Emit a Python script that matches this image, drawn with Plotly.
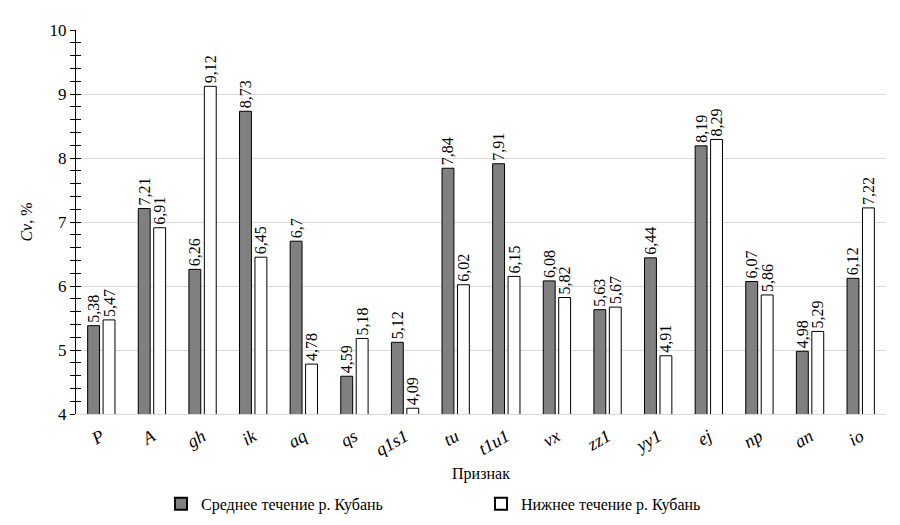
import plotly.graph_objects as go

# признаки (categories) and Cv, % for the two stretches of the river
signs = ['P', 'A', 'gh', 'ik', 'aq', 'qs', 'q1s1', 'tu', 't1u1', 'vx',
         'zz1', 'yy1', 'ej', 'np', 'an', 'io']
middle_cv = [5.38, 7.21, 6.26, 8.73, 6.7, 4.59, 5.12, 7.84, 7.91, 6.08,
             5.63, 6.44, 8.19, 6.07, 4.98, 6.12]
lower_cv = [5.47, 6.91, 9.12, 6.45, 4.78, 5.18, 4.09, 6.02, 6.15, 5.82,
            5.67, 4.91, 8.29, 5.86, 5.29, 7.22]

FONT = '"Liberation Serif", "Times New Roman", serif'


def comma(vals):
    return [str(v).replace('.', ',') for v in vals]


fig = go.Figure()
fig.add_trace(go.Bar(x=signs, y=middle_cv, name='Среднее течение р. Кубань',
                     marker=dict(color='#808080',
                                 line=dict(color='black', width=1)),
                     text=comma(middle_cv), textposition='outside',
                     textangle=-90, cliponaxis=False, constraintext='none',
                     textfont=dict(family=FONT, size=16, color='black')))
fig.add_trace(go.Bar(x=signs, y=lower_cv, name='Нижнее течение р. Кубань',
                     marker=dict(color='white',
                                 line=dict(color='black', width=1)),
                     text=comma(lower_cv), textposition='outside',
                     textangle=-90, cliponaxis=False, constraintext='none',
                     textfont=dict(family=FONT, size=16, color='black')))

# invisible trace to carry the inner half of the crossing ticks
fig.add_trace(go.Scatter(x=signs, y=middle_cv, yaxis='y2', mode='none',
                         showlegend=False, hoverinfo='skip'))

fig.update_layout(
    width=900, height=525,
    plot_bgcolor='white', paper_bgcolor='white',
    font=dict(family=FONT, size=16, color='black'),
    barmode='group', bargap=0.39, bargroupgap=0.23,
    margin=dict(l=68, r=22, t=22, b=107),
    xaxis=dict(tickvals=signs,
               ticktext=['<i>%s</i>' % s for s in signs],
               tickangle=-30, tickfont=dict(size=18),
               ticklabelstandoff=4,
               showline=True, linecolor='#d9d9d9', linewidth=1,
               title=dict(text='Признак', font=dict(size=16), standoff=8)),
    yaxis=dict(range=[4, 10], dtick=1, showgrid=True, gridcolor='#d9d9d9',
               showline=True, linecolor='black', linewidth=1,
               ticks='outside', ticklen=5, tickcolor='black',
               tickfont=dict(size=17),
               minor=dict(dtick=0.2, ticks='outside', ticklen=5,
                          tickcolor='black', showgrid=False),
               zeroline=False,
               title=dict(text='<i>Cv</i>, %', font=dict(size=16),
                          standoff=12)),
    yaxis2=dict(overlaying='y', matches='y', side='left',
                showticklabels=False, showgrid=False, showline=False,
                ticks='inside', ticklen=5, tickcolor='black', dtick=1,
                minor=dict(dtick=0.2, ticks='inside', ticklen=5,
                           tickcolor='black', showgrid=False),
                zeroline=False),
    legend=dict(orientation='h', x=0.5, xanchor='center', y=-0.19,
                yanchor='top', entrywidth=275, font=dict(size=16),
                itemsizing='constant'),
)

fig.write_html("out.html")
